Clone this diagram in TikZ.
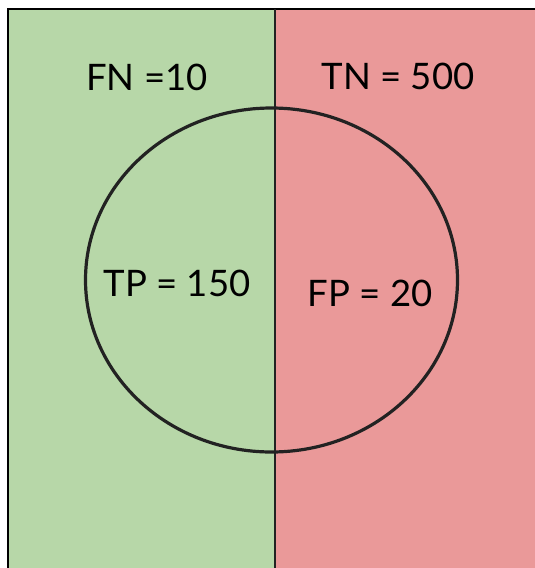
\documentclass[tikz,border=0pt]{standalone}
\usepackage{fontspec}
\setmainfont{Lato}
\usetikzlibrary{shapes.geometric}
\definecolor{posgreen}{HTML}{B7D7A8}
\definecolor{negred}{HTML}{EA9999}
\definecolor{inkline}{HTML}{222222}
\begin{document}
\begin{tikzpicture}[x=1pt,y=-1pt,
  lbl/.style={font=\fontsize{36.5}{42}\selectfont, inner sep=0pt, anchor=base},
  edge/.style={draw=black, line width=2.5pt}]
\useasboundingbox (0,0) rectangle (535,568);
% two halves of the sample space
\fill[posgreen] (8,9) rectangle (275,568);
\fill[negred] (275,9) rectangle (535,568);
% outer frame (top and left) and divider
\coordinate (tl) at (8,9);
\coordinate (tr) at (535,9);
\coordinate (bl) at (8,568);
\coordinate (dt) at (275,9);
\coordinate (db) at (275,568);
\draw[edge, line cap=rect] (bl) -- (tl) -- (tr);
\draw[draw=inkline, line width=2pt] (dt) -- (db);
% predicted-positive region
\node[draw=inkline, line width=3.2pt, ellipse, minimum width=372pt, minimum height=344pt, inner sep=0pt] (pred) at (271.5,280) {};
% labels
\node[lbl] (fn) at (147,90) {FN =10};
\node[lbl] (tn) at (398,89) {TN = 500};
\node[lbl] (tp) at (177,296) {TP = 150};
\node[lbl] (fp) at (370,306) {FP = 20};
\end{tikzpicture}
\end{document}
